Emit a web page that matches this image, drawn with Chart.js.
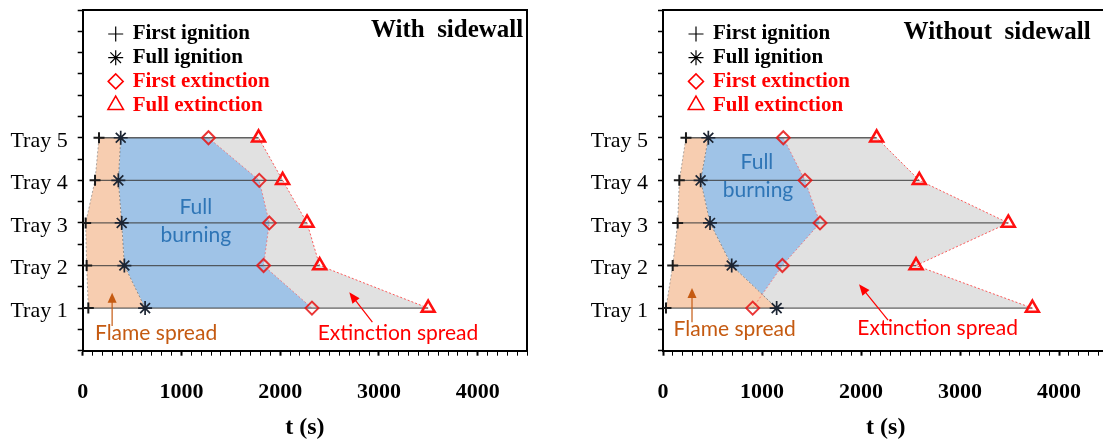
<!DOCTYPE html>
<html>
<head>
<meta charset="utf-8">
<script src="https://cdn.jsdelivr.net/npm/chart.js@4.4.1/dist/chart.umd.min.js"></script>
<style>
  html, body { margin: 0; padding: 0; background: #fff; overflow: hidden; }
  #wrap { position: relative; width: 1103px; height: 445px; overflow: hidden; }
  canvas { position: absolute; top: 0; }
  #c1 { left: 0; }
  #c2 { left: 560px; }
</style>
</head>
<body>
<div id="wrap">
  <canvas id="c1" width="545" height="445"></canvas>
  <canvas id="c2" width="570" height="445"></canvas>
</div>
<script>
const trays = [1, 2, 3, 4, 5];
const trayLabels = ['Tray 1', 'Tray 2', 'Tray 3', 'Tray 4', 'Tray 5'];
const xTickLabels = [0, 1000, 2000, 3000, 4000];
const legendNames = ['First ignition', 'Full ignition', 'First extinction', 'Full extinction'];

// with sidewall, t (s) for tray 1..5
const firstIgnWith = [57, 40, 30, 125, 165];
const fullIgnWith = [632, 422, 395, 361, 385];
const firstExtWith = [2322, 1832, 1890, 1788, 1274];
const fullExtWith = [3499, 2400, 2272, 2025, 1781];

// without sidewall
const firstIgnWithout = [30, 98, 148, 165, 232];
const fullIgnWithout = [1148, 694, 475, 380, 458];
const firstExtWithout = [906, 1206, 1586, 1434, 1215];
const fullExtWithout = [3731, 2556, 3488, 2589, 2158];

Chart.defaults.font.family = "'Liberation Serif', 'Times New Roman', serif";

const pts = arr => arr.map((t, i) => ({ x: t, y: trays[i] }));
const poly = (a, b) => {
  const p = pts(a).concat(pts(b).reverse());
  p.push(p[0]);
  return p;
};

function makeDatasets(fi, fu, fe, fx) {
  const ds = [];
  const marker = (label, arr, style, r, w, col, lineCol) => ({
    label: label, data: pts(arr), showLine: true, fill: false,
    borderColor: lineCol, borderWidth: 1, borderDash: [2, 2],
    pointStyle: style, pointRadius: r, pointBorderWidth: w,
    pointBorderColor: col, pointBackgroundColor: 'rgba(0,0,0,0)', order: 0
  });
  ds.push(marker(legendNames[0], fi, 'cross', 5.5, 2, '#1a1a1a', 'rgba(120,120,120,0.6)'));
  ds.push(marker(legendNames[1], fu, 'star', 7, 1.7, '#1c2533', 'rgba(90,90,90,0.6)'));
  ds.push(marker(legendNames[2], fe, 'rectRot', 6.5, 2, 'rgba(230,20,20,0.85)', 'rgba(255,60,60,0.55)'));
  ds.push(marker(legendNames[3], fx, 'triangle', 7.5, 2.5, '#ff1010', 'rgba(255,40,40,0.75)'));
  // horizontal line per tray
  trays.forEach((n, i) => {
    ds.push({
      data: [{ x: fi[i], y: n }, { x: fx[i], y: n }], showLine: true, fill: false,
      borderColor: 'rgba(60,60,60,0.8)', borderWidth: 1.3, pointRadius: 0, order: 5
    });
  });
  // shaded zones
  const zone = (data, color, order) => ({
    data: data, showLine: true, fill: 'shape', backgroundColor: color,
    borderColor: 'rgba(0,0,0,0)', borderWidth: 0, pointRadius: 0, order: order
  });
  ds.push(zone(poly(fi, fu), '#f7cdb0', 10));
  ds.push(zone(poly(fu, fe), '#9fc3e7', 11));
  ds.push(zone(poly(fe, fx), '#e1e1e1', 12));
  return ds;
}

function arrow(ctx, x0, y0, x1, y1, col, len, wid) {
  const a = Math.atan2(y1 - y0, x1 - x0);
  ctx.strokeStyle = col; ctx.fillStyle = col; ctx.lineWidth = 1.2;
  ctx.beginPath(); ctx.moveTo(x0, y0);
  ctx.lineTo(x1 - Math.cos(a) * len * 0.8, y1 - Math.sin(a) * len * 0.8); ctx.stroke();
  ctx.beginPath(); ctx.moveTo(x1, y1);
  ctx.lineTo(x1 - Math.cos(a) * len + Math.sin(a) * wid / 2, y1 - Math.sin(a) * len - Math.cos(a) * wid / 2);
  ctx.lineTo(x1 - Math.cos(a) * len - Math.sin(a) * wid / 2, y1 - Math.sin(a) * len + Math.cos(a) * wid / 2);
  ctx.closePath(); ctx.fill();
}

const notes = {
  id: 'notes',
  afterDraw(chart, args, o) {
    const { ctx, chartArea: a, scales: { x, y } } = chart;
    ctx.save();
    // top and right frame
    ctx.strokeStyle = '#000'; ctx.lineWidth = 2;
    ctx.beginPath(); ctx.moveTo(a.left, a.top); ctx.lineTo(a.right, a.top); ctx.lineTo(a.right, a.bottom); ctx.stroke();

    // legend
    const styles = [
      { pointStyle: 'cross', radius: 7.5, w: 1.2, c: '#000' },
      { pointStyle: 'star', radius: 7.5, w: 1.2, c: '#000' },
      { pointStyle: 'rectRot', radius: 7.5, w: 1.5, c: '#ff0000' },
      { pointStyle: 'triangle', radius: 9, w: 1.5, c: '#ff0000' }
    ];
    ctx.textBaseline = 'middle'; ctx.textAlign = 'left';
    ctx.font = "bold 21px 'Liberation Serif'";
    legendNames.forEach((name, i) => {
      const yy = a.top + 24 + i * 23.7;
      const s = styles[i];
      ctx.strokeStyle = s.c; ctx.fillStyle = 'rgba(0,0,0,0)'; ctx.lineWidth = s.w;
      Chart.helpers.drawPoint(ctx, { pointStyle: s.pointStyle, radius: s.radius, rotation: 0, borderWidth: s.w }, a.left + 33, yy);
      ctx.fillStyle = s.c;
      ctx.fillText(name, a.left + 50, yy);
    });

    // panel title
    ctx.font = "bold 25px 'Liberation Serif'";
    ctx.fillStyle = '#000'; ctx.textAlign = 'right';
    ctx.fillText(o.title, x.getPixelForValue(o.titleAt[0]), y.getPixelForValue(o.titleAt[1]));

    // zone notes
    ctx.textAlign = 'center';
    ctx.font = "21px Lato";
    ctx.fillStyle = '#2e75b6';
    ctx.fillText('Full', x.getPixelForValue(o.full[0]), y.getPixelForValue(o.full[1]));
    ctx.fillText('burning', x.getPixelForValue(o.burning[0]), y.getPixelForValue(o.burning[1]));
    ctx.fillStyle = '#c55a11';
    ctx.fillText('Flame spread', x.getPixelForValue(o.flame[0]), y.getPixelForValue(o.flame[1]));
    ctx.fillStyle = '#ff0000';
    ctx.fillText('Extinction spread', x.getPixelForValue(o.ext[0]), y.getPixelForValue(o.ext[1]));

    const fa = o.flameArrow, ea = o.extArrow;
    arrow(ctx, x.getPixelForValue(fa[0]), y.getPixelForValue(fa[1]), x.getPixelForValue(fa[2]), y.getPixelForValue(fa[3]), '#c55a11', 10, 9);
    arrow(ctx, x.getPixelForValue(ea[0]), y.getPixelForValue(ea[1]), x.getPixelForValue(ea[2]), y.getPixelForValue(ea[3]), '#ff0000', 11, 9);
    ctx.restore();
  }
};

function makeOptions(yWidth, padRight, note) {
  return {
    responsive: false,
    animation: false,
    events: [],
    layout: { padding: { top: 9, right: padRight, left: 0, bottom: 0 } },
    plugins: { legend: { display: false }, tooltip: { enabled: false }, notes: note },
    scales: {
      x: {
        type: 'linear', min: 0, max: 4500,
        ticks: {
          stepSize: 100, autoSkip: false, maxRotation: 0, maxTicksLimit: 100, padding: 23,
          color: '#000', font: { size: 22, weight: 'bold' },
          callback: v => xTickLabels.includes(v) ? String(v) : ''
        },
        grid: {
          drawOnChartArea: false, tickLength: 5, color: '#000',
          tickWidth: c => (c.tick && c.tick.value % 1000 === 0) ? 2 : 1
        },
        border: { color: '#000', width: 2 },
        title: { display: true, text: 't (s)', color: '#000', font: { size: 24, weight: 'bold' }, padding: { top: 0, bottom: 3 } },
        afterFit: s => { s.height = 94.3; s.paddingLeft = 0; s.paddingRight = 0; }
      },
      y: {
        type: 'linear', min: 0, max: 8,
        ticks: {
          stepSize: 0.5, autoSkip: false, maxTicksLimit: 100, padding: 10, labelOffset: 3,
          color: '#000', font: { size: 22 },
          callback: v => trays.includes(v) ? trayLabels[v - 1] : ''
        },
        grid: { drawOnChartArea: false, tickLength: 5, color: '#000', tickWidth: 1.5 },
        border: { color: '#000', width: 2 },
        afterFit: s => { s.width = yWidth; s.paddingTop = 0; s.paddingBottom = 0; }
      }
    }
  };
}

new Chart(document.getElementById('c1'), {
  type: 'scatter',
  data: { datasets: makeDatasets(firstIgnWith, fullIgnWith, firstExtWith, fullExtWith) },
  options: makeOptions(82.7, 18, {
    title: 'With  sidewall', titleAt: [4462, 7.51],
    full: [1146, 3.37], burning: [1146, 2.71],
    flame: [743, 0.41], ext: [3193, 0.41],
    flameArrow: [298, 0.58, 298, 1.36], extArrow: [2934, 0.67, 2700, 1.37]
  }),
  plugins: [notes]
});

new Chart(document.getElementById('c2'), {
  type: 'scatter',
  data: { datasets: makeDatasets(firstIgnWithout, fullIgnWithout, firstExtWithout, fullExtWithout) },
  options: makeOptions(103, 21.5, {
    title: 'Without  sidewall', titleAt: [4320, 7.46],
    full: [949, 4.42], burning: [960, 3.76],
    flame: [724, 0.51], ext: [2774, 0.53],
    flameArrow: [293, 0.67, 293, 1.47], extArrow: [2273, 0.72, 1980, 1.56]
  }),
  plugins: [notes]
});
</script>
</body>
</html>
